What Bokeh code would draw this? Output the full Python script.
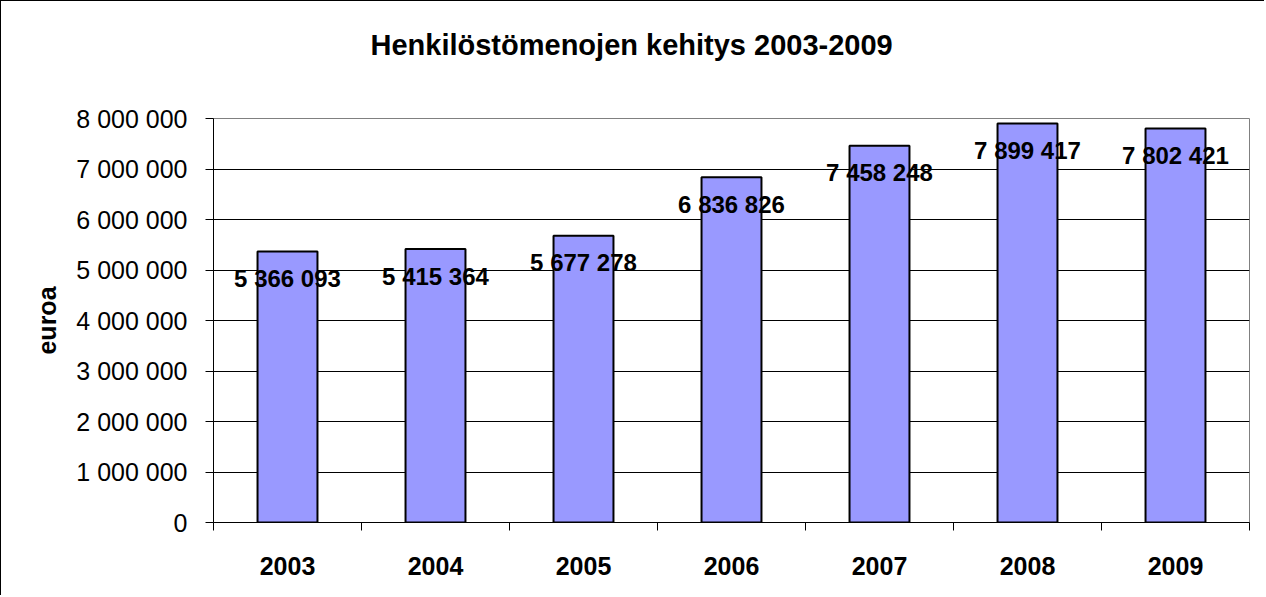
from bokeh.plotting import figure
from bokeh.models import Range1d, FixedTicker, ColumnDataSource, Title
from bokeh.embed import file_html
from bokeh.resources import INLINE
from bokeh.core.properties import value

# ---- data ----
years = ["2003", "2004", "2005", "2006", "2007", "2008", "2009"]
costs = [5366093, 5415364, 5677278, 6836826, 7458248, 7899417, 7802421]
cost_labels = ["5 366 093", "5 415 364", "5 677 278", "6 836 826",
               "7 458 248", "7 899 417", "7 802 421"]
y_ticks = [0, 1000000, 2000000, 3000000, 4000000, 5000000, 6000000, 7000000, 8000000]
y_tick_labels = ["0", "1 000 000", "2 000 000", "3 000 000", "4 000 000",
                 "5 000 000", "6 000 000", "7 000 000", "8 000 000"]
title_text = "Henkilöstömenojen kehitys 2003-2009"
y_title = "euroa"

FONT = "Liberation Sans"
n = len(years)
xs = [i + 0.5 for i in range(n)]

src = ColumnDataSource(dict(x=xs, top=costs, lab=cost_labels))

p = figure(width=1264, height=595, output_backend="svg", toolbar_location=None,
           x_range=Range1d(0, n), y_range=Range1d(0, 8000000),
           min_border_left=212, min_border_right=16, min_border_top=117, min_border_bottom=74)
p.styles = {"border-left": "1px solid black", "border-top": "1px solid black"}

p.outline_line_color = "#808080"
p.outline_line_width = 1
p.background_fill_color = "white"
p.border_fill_color = "white"

p.vbar(x="x", top="top", width=0.405, bottom=0, source=src,
       fill_color="#9999FF", line_color="black", line_width=2)

p.text(x="x", y="top", text="lab", source=src, text_align="center",
       text_baseline="middle", y_offset=27, text_font=value(FONT),
       text_font_size="24px", text_font_style="bold", text_color="black")

# y axis
p.yaxis.ticker = FixedTicker(ticks=y_ticks)
p.yaxis.major_label_overrides = {t: l for t, l in zip(y_ticks, y_tick_labels)}
p.yaxis.major_label_text_font = FONT
p.yaxis.major_label_text_font_size = "25px"
p.yaxis.major_label_text_color = "black"
p.yaxis.major_tick_out = 8
p.yaxis.major_tick_in = 0
p.yaxis.minor_tick_line_color = None
p.yaxis.major_label_standoff = 18
p.yaxis.axis_line_color = "black"
p.yaxis.major_tick_line_color = "black"
p.yaxis.axis_label = y_title
p.yaxis.axis_label_text_font = FONT
p.yaxis.axis_label_text_font_size = "25px"
p.yaxis.axis_label_text_font_style = "bold"
p.yaxis.axis_label_text_color = "black"
p.yaxis.axis_label_standoff = 12

# x axis
p.xaxis.ticker = FixedTicker(ticks=xs, minor_ticks=list(range(n + 1)))
p.xaxis.major_label_overrides = {x: y for x, y in zip(xs, years)}
p.xaxis.major_label_text_font = FONT
p.xaxis.major_label_text_font_size = "25px"
p.xaxis.major_label_text_font_style = "bold"
p.xaxis.major_label_text_color = "black"
p.xaxis.major_tick_out = 0
p.xaxis.major_tick_in = 0
p.xaxis.minor_tick_out = 8
p.xaxis.minor_tick_in = 0
p.xaxis.minor_tick_line_color = "black"
p.xaxis.major_label_standoff = 26
p.xaxis.axis_line_color = "black"

p.xgrid.grid_line_color = None
p.ygrid.ticker = FixedTicker(ticks=y_ticks)
p.ygrid.grid_line_color = "black"
p.ygrid.grid_line_width = 1

p.add_layout(Title(text=title_text + "\n\u00a0", align="left", offset=157,
                   standoff=51, text_font=FONT, text_font_size="29px",
                   text_font_style="bold", text_color="black"), "above")

open("out.html", "w").write(file_html(p, INLINE))
